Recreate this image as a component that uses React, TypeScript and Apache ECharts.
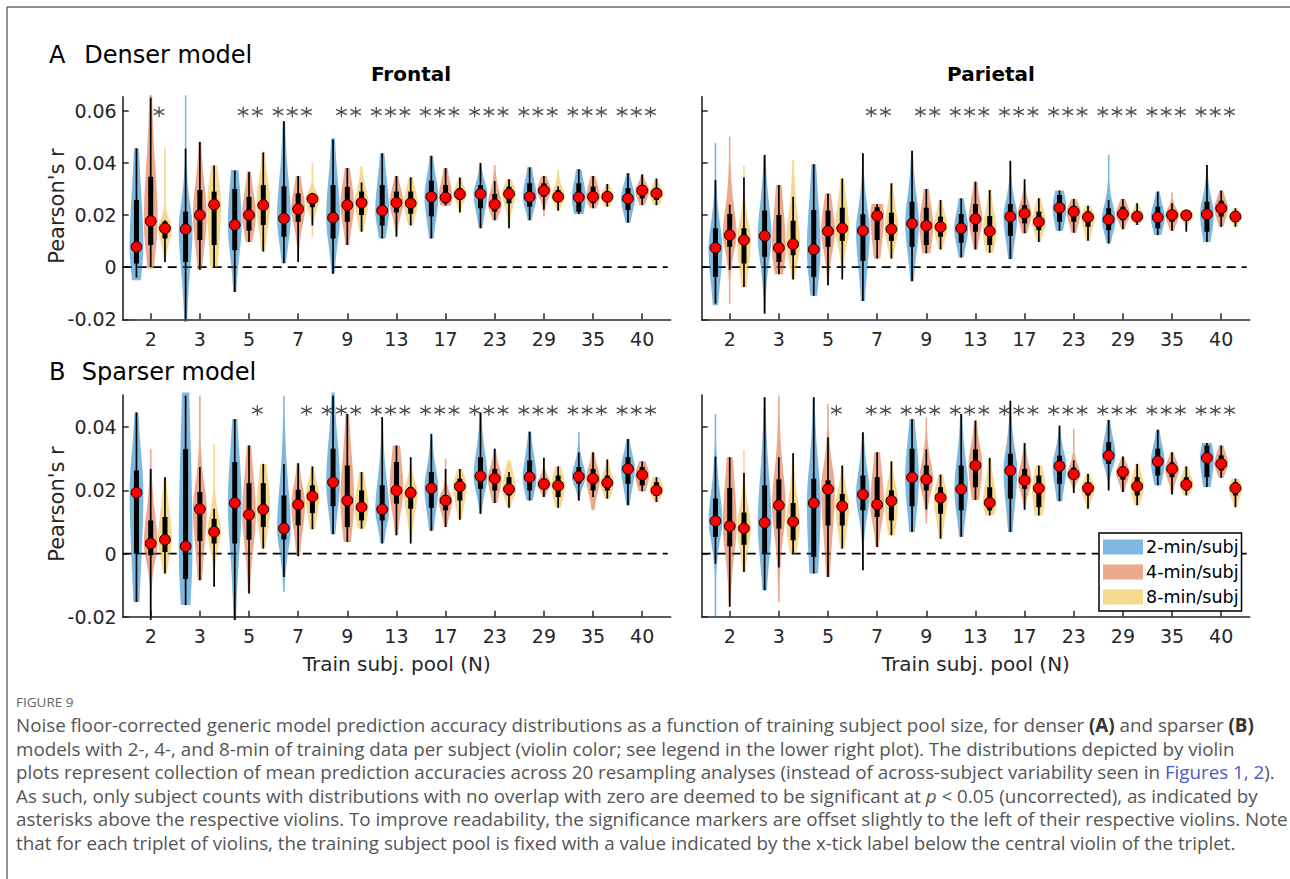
import React, { useEffect, useRef } from "react";
import * as echarts from "echarts";

// x tick labels (training subject pool size N)
const nLabels = ["2", "3", "5", "7", "9", "13", "17", "23", "29", "35", "40"];
const durations = ["2-min/subj", "4-min/subj", "8-min/subj"];

// each violin: [tailLow, whiskerLow, q1, median, q3, whiskerHigh, tailHigh]
const denserFrontal2min = [
  [-0.005, -0.004, 0.0014, 0.0078, 0.0258, 0.0456, 0.0456],
  [-0.021, -0.02, 0.002, 0.0146, 0.0213, 0.0455, 0.066],
  [-0.0095, -0.0095, 0.0065, 0.0162, 0.03, 0.037, 0.0373],
  [0.0015, 0.0015, 0.0117, 0.0187, 0.031, 0.056, 0.056],
  [-0.0025, -0.0025, 0.011, 0.019, 0.0315, 0.049, 0.0495],
  [0.011, 0.011, 0.016, 0.0217, 0.0315, 0.0437, 0.0437],
  [0.011, 0.011, 0.0195, 0.027, 0.0332, 0.0427, 0.0427],
  [0.0149, 0.0149, 0.0226, 0.0281, 0.0315, 0.04, 0.04],
  [0.018, 0.018, 0.0232, 0.027, 0.0322, 0.0383, 0.0383],
  [0.0204, 0.0204, 0.0213, 0.0268, 0.0322, 0.0376, 0.0376],
  [0.017, 0.017, 0.0219, 0.0263, 0.0303, 0.036, 0.036],
];
const denserFrontal4min = [
  [-0.0005, 0, 0.0085, 0.0177, 0.0347, 0.065, 0.066],
  [-0.001, -0.001, 0.0104, 0.02, 0.0296, 0.048, 0.0482],
  [0.0097, 0.0097, 0.014, 0.02, 0.027, 0.0365, 0.0367],
  [0.002, 0.002, 0.0174, 0.0223, 0.0283, 0.035, 0.035],
  [0.0085, 0.0085, 0.0174, 0.0238, 0.0308, 0.038, 0.038],
  [0.0117, 0.0117, 0.021, 0.0247, 0.029, 0.035, 0.035],
  [0.0236, 0.0236, 0.0245, 0.0267, 0.0315, 0.038, 0.038],
  [0.018, 0.018, 0.0213, 0.0241, 0.0281, 0.033, 0.0392],
  [0.0194, 0.022, 0.027, 0.0294, 0.0322, 0.035, 0.035],
  [0.0226, 0.0226, 0.0245, 0.027, 0.0309, 0.035, 0.035],
  [0.0238, 0.0238, 0.0264, 0.0294, 0.0315, 0.0356, 0.0356],
];
const denserFrontal8min = [
  [0.002, 0.002, 0.011, 0.0149, 0.0175, 0.018, 0.046],
  [0, 0, 0.0085, 0.024, 0.029, 0.039, 0.039],
  [0.006, 0.006, 0.0162, 0.0238, 0.0315, 0.044, 0.0444],
  [0.0117, 0.016, 0.023, 0.0262, 0.028, 0.0285, 0.04],
  [0.0136, 0.0136, 0.02, 0.0247, 0.029, 0.0325, 0.0386],
  [0.016, 0.016, 0.0205, 0.0245, 0.029, 0.0345, 0.0345],
  [0.021, 0.021, 0.0258, 0.028, 0.0303, 0.0344, 0.0344],
  [0.0149, 0.0149, 0.0245, 0.0281, 0.0309, 0.0337, 0.0337],
  [0.0217, 0.0217, 0.0251, 0.027, 0.0296, 0.031, 0.0373],
  [0.0232, 0.0232, 0.0251, 0.027, 0.029, 0.0319, 0.0319],
  [0.0238, 0.0238, 0.0258, 0.0283, 0.0303, 0.034, 0.034],
];
const denserParietal2min = [
  [-0.0146, -0.014, -0.0037, 0.0074, 0.0149, 0.0335, 0.0476],
  [-0.0178, -0.0178, 0.004, 0.012, 0.0217, 0.043, 0.0431],
  [-0.011, -0.011, -0.0037, 0.0068, 0.0219, 0.0395, 0.0395],
  [-0.013, -0.013, 0.0024, 0.014, 0.0203, 0.0437, 0.0437],
  [-0.0054, -0.0054, 0.0078, 0.0167, 0.0251, 0.0447, 0.0447],
  [0.0037, 0.0037, 0.0094, 0.0149, 0.0204, 0.0264, 0.0264],
  [0.0031, 0.0031, 0.012, 0.0194, 0.0242, 0.0408, 0.0408],
  [0.014, 0.014, 0.0174, 0.0228, 0.0277, 0.0294, 0.0294],
  [0.0091, 0.0091, 0.0142, 0.0183, 0.0226, 0.0258, 0.0431],
  [0.0123, 0.0123, 0.0149, 0.0191, 0.0232, 0.029, 0.029],
  [0.0097, 0.0097, 0.0136, 0.0203, 0.0251, 0.0392, 0.0392],
];
const denserParietal4min = [
  [-0.014, -0.001, 0.0078, 0.0123, 0.0204, 0.024, 0.05],
  [-0.0027, -0.0027, 0.002, 0.0074, 0.02, 0.0315, 0.0315],
  [-0.0069, -0.0069, 0.0078, 0.0138, 0.0217, 0.0283, 0.0283],
  [0.0033, 0.0033, 0.0104, 0.0197, 0.023, 0.0242, 0.0242],
  [0.0053, 0.0053, 0.0085, 0.0159, 0.0228, 0.03, 0.03],
  [0.0068, 0.0068, 0.0136, 0.0185, 0.0242, 0.0328, 0.0328],
  [0.013, 0.013, 0.0168, 0.0206, 0.0238, 0.0337, 0.0337],
  [0.0132, 0.0132, 0.0174, 0.0213, 0.0235, 0.0262, 0.0262],
  [0.0145, 0.0145, 0.018, 0.0204, 0.0232, 0.0262, 0.0262],
  [0.014, 0.014, 0.0174, 0.02, 0.0219, 0.0245, 0.0286],
  [0.0155, 0.0155, 0.0194, 0.0226, 0.0255, 0.0294, 0.0294],
];
const denserParietal8min = [
  [-0.0076, -0.0076, 0.0014, 0.0104, 0.0149, 0.0344, 0.0388],
  [-0.0047, -0.0047, 0.0046, 0.0088, 0.0178, 0.027, 0.0411],
  [-0.0047, -0.0047, 0.0101, 0.0149, 0.0228, 0.034, 0.034],
  [0.0033, 0.0033, 0.0101, 0.0146, 0.0209, 0.0322, 0.0322],
  [0.0068, 0.0068, 0.0117, 0.0154, 0.0194, 0.0258, 0.0258],
  [0.0055, 0.0055, 0.0085, 0.0138, 0.0196, 0.0296, 0.0296],
  [0.0097, 0.0097, 0.0142, 0.0174, 0.0213, 0.0264, 0.0264],
  [0.0101, 0.0101, 0.0155, 0.0192, 0.0213, 0.0236, 0.0236],
  [0.0162, 0.0162, 0.018, 0.0194, 0.0213, 0.0245, 0.0245],
  [0.0136, 0.0136, 0.0185, 0.0199, 0.0209, 0.0219, 0.0219],
  [0.0155, 0.0155, 0.018, 0.0194, 0.0209, 0.0226, 0.0226],
];
const sparserFrontal2min = [
  [-0.0153, -0.0153, 0.0, 0.0193, 0.0263, 0.0447, 0.0447],
  [-0.0163, -0.0163, -0.008, 0.0023, 0.033, 0.05, 0.051],
  [-0.021, -0.021, 0.0032, 0.016, 0.029, 0.0426, 0.0426],
  [-0.0121, -0.0074, 0.0045, 0.008, 0.0184, 0.0284, 0.05],
  [0.0061, 0.0061, 0.015, 0.0226, 0.0332, 0.05, 0.051],
  [0.0032, 0.0032, 0.0105, 0.014, 0.0216, 0.0432, 0.0432],
  [0.0072, 0.0072, 0.0145, 0.0207, 0.0258, 0.0379, 0.0379],
  [0.0126, 0.0126, 0.0205, 0.0245, 0.0305, 0.0447, 0.0447],
  [0.0168, 0.0168, 0.02, 0.0242, 0.0295, 0.0386, 0.0386],
  [0.0168, 0.0168, 0.0221, 0.0244, 0.0274, 0.032, 0.0384],
  [0.0153, 0.0153, 0.0221, 0.0268, 0.0305, 0.0363, 0.0363],
];
const sparserFrontal4min = [
  [-0.021, -0.021, -0.0005, 0.0032, 0.0105, 0.0268, 0.0332],
  [-0.0084, -0.0084, 0.004, 0.0141, 0.0195, 0.0274, 0.05],
  [-0.0126, -0.0126, 0.0044, 0.0123, 0.0223, 0.0342, 0.0342],
  [-0.0008, -0.0008, 0.0089, 0.0155, 0.0202, 0.0286, 0.0286],
  [0.0037, 0.0037, 0.0084, 0.0168, 0.0279, 0.0442, 0.0442],
  [0.0058, 0.0058, 0.0158, 0.02, 0.029, 0.0342, 0.0342],
  [0.0084, 0.0084, 0.0137, 0.0168, 0.0184, 0.0268, 0.03],
  [0.016, 0.016, 0.02, 0.0238, 0.0268, 0.0332, 0.0332],
  [0.0179, 0.0179, 0.0205, 0.022, 0.0237, 0.0303, 0.0303],
  [0.0137, 0.0179, 0.02, 0.0237, 0.0268, 0.0321, 0.0321],
  [0.0197, 0.0197, 0.0216, 0.0249, 0.0274, 0.0292, 0.0292],
];
const sparserFrontal8min = [
  [-0.0063, -0.0063, 0.0005, 0.0044, 0.0116, 0.0242, 0.0242],
  [-0.0105, -0.0105, 0.0032, 0.0069, 0.011, 0.0142, 0.0347],
  [0.0016, 0.0016, 0.0084, 0.014, 0.0223, 0.0284, 0.0284],
  [0.0077, 0.0077, 0.0128, 0.0181, 0.0216, 0.0276, 0.0276],
  [0.0079, 0.0079, 0.0105, 0.0147, 0.02, 0.0258, 0.0258],
  [0.0032, 0.0032, 0.0142, 0.0192, 0.0211, 0.0305, 0.0305],
  [0.0107, 0.0107, 0.0168, 0.0213, 0.0237, 0.0268, 0.0268],
  [0.0145, 0.0145, 0.0184, 0.0204, 0.0242, 0.0258, 0.0295],
  [0.0145, 0.0145, 0.0179, 0.0215, 0.0247, 0.0276, 0.0276],
  [0.0174, 0.0174, 0.02, 0.0224, 0.0247, 0.0298, 0.0298],
  [0.0163, 0.0163, 0.0184, 0.02, 0.0226, 0.0242, 0.0242],
];
const sparserParietal2min = [
  [-0.0202, -0.0032, 0.0053, 0.0103, 0.0174, 0.0307, 0.0442],
  [-0.0116, -0.0116, 0.0, 0.0098, 0.0216, 0.0495, 0.0495],
  [-0.0063, -0.0063, -0.001, 0.016, 0.0237, 0.0495, 0.0495],
  [-0.0053, -0.0053, 0.0137, 0.0187, 0.0247, 0.0384, 0.0384],
  [0.0068, 0.0068, 0.015, 0.0241, 0.0332, 0.0426, 0.0426],
  [0.0053, 0.0053, 0.0137, 0.0204, 0.0279, 0.0442, 0.0442],
  [0.0068, 0.0068, 0.0174, 0.0263, 0.0316, 0.0484, 0.0484],
  [0.0166, 0.0166, 0.0221, 0.0277, 0.031, 0.0405, 0.0405],
  [0.02, 0.02, 0.0284, 0.031, 0.0353, 0.0423, 0.0423],
  [0.0216, 0.0216, 0.0247, 0.0292, 0.0332, 0.0392, 0.0392],
  [0.0211, 0.0211, 0.0242, 0.0303, 0.0342, 0.035, 0.035],
];
const sparserParietal4min = [
  [-0.0168, -0.0168, 0.0023, 0.0087, 0.0208, 0.0305, 0.0305],
  [-0.0153, -0.0044, 0.0079, 0.0153, 0.0235, 0.0305, 0.05],
  [-0.0074, -0.0074, 0.0089, 0.0204, 0.0232, 0.0368, 0.0474],
  [0.0021, 0.0021, 0.0116, 0.0155, 0.0242, 0.0321, 0.0321],
  [0.0095, 0.014, 0.02, 0.0235, 0.0279, 0.033, 0.043],
  [0.017, 0.017, 0.021, 0.0279, 0.033, 0.0421, 0.0421],
  [0.0139, 0.0139, 0.0205, 0.0232, 0.0268, 0.035, 0.035],
  [0.0192, 0.0192, 0.0237, 0.0251, 0.0272, 0.0295, 0.0395],
  [0.0195, 0.0195, 0.0234, 0.0258, 0.0276, 0.0307, 0.0307],
  [0.0187, 0.0187, 0.0242, 0.0268, 0.0289, 0.0321, 0.0321],
  [0.024, 0.024, 0.0263, 0.0284, 0.0311, 0.0342, 0.0342],
];
const sparserParietal8min = [
  [-0.0058, -0.0058, 0.0028, 0.008, 0.013, 0.0255, 0.0328],
  [0.0, 0.0, 0.0042, 0.0101, 0.016, 0.0318, 0.0318],
  [0.0016, 0.0016, 0.0089, 0.015, 0.0189, 0.0279, 0.0279],
  [0.0058, 0.0058, 0.0105, 0.0167, 0.02, 0.0292, 0.0292],
  [0.0047, 0.0047, 0.0126, 0.0177, 0.021, 0.025, 0.025],
  [0.0121, 0.0121, 0.0137, 0.0161, 0.021, 0.0303, 0.0303],
  [0.0121, 0.0121, 0.0147, 0.0207, 0.0247, 0.0279, 0.0279],
  [0.0142, 0.0142, 0.0184, 0.0207, 0.0226, 0.0253, 0.0253],
  [0.0153, 0.0153, 0.0184, 0.0213, 0.0242, 0.0284, 0.0284],
  [0.0184, 0.0184, 0.02, 0.0218, 0.0242, 0.0276, 0.0276],
  [0.0147, 0.0147, 0.0184, 0.0207, 0.0226, 0.0237, 0.0237],
];

// significance (asterisk) flags per group: [2-min, 4-min, 8-min]
const sigDenserFrontal = [[0,0,1],[0,0,0],[0,1,1],[1,1,1],[0,1,1],[1,1,1],[1,1,1],[1,1,1],[1,1,1],[1,1,1],[1,1,1]];
const sigDenserParietal = [[0,0,0],[0,0,0],[0,0,0],[0,1,1],[0,1,1],[1,1,1],[1,1,1],[1,1,1],[1,1,1],[1,1,1],[1,1,1]];
const sigSparserFrontal = [[0,0,0],[0,0,0],[0,0,1],[0,0,1],[1,1,1],[1,1,1],[1,1,1],[1,1,1],[1,1,1],[1,1,1],[1,1,1]];
const sigSparserParietal = [[0,0,0],[0,0,0],[0,0,1],[0,1,1],[1,1,1],[1,1,1],[1,1,1],[1,1,1],[1,1,1],[1,1,1],[1,1,1]];

const yTicksDenser = [-0.02, 0, 0.02, 0.04, 0.06];
const yTicksSparser = [-0.02, 0, 0.02, 0.04];
const starLevelDenser = 0.0595;
const starLevelSparser = 0.0453;
const zeroLevel = [0];

const captionLines = [
  "{n|Noise floor-corrected generic model prediction accuracy distributions as a function of training subject pool size, for denser }{b|(A)}{n| and sparser }{b|(B)}",
  "{n|models with 2-, 4-, and 8-min of training data per subject (violin color; see legend in the lower right plot). The distributions depicted by violin}",
  "{n|plots represent collection of mean prediction accuracies across 20 resampling analyses (instead of across-subject variability seen in }{l|Figures 1, 2}{n|).}",
  "{n|As such, only subject counts with distributions with no overlap with zero are deemed to be significant at }{i|p}{n| < 0.05 (uncorrected), as indicated by}",
  "{n|asterisks above the respective violins. To improve readability, the significance markers are offset slightly to the left of their respective violins. Note}",
  "{n|that for each triplet of violins, the training subject pool is fixed with a value indicated by the x-tick label below the central violin of the triplet.}",
];

const FILLS = ["rgba(0,114,189,0.5)", "rgba(217,83,25,0.5)", "rgba(237,177,32,0.5)"];
const OFFSETS = [-0.29, 0, 0.29];
const AX = "#262626";
const FONT = "DejaVu Sans";
const CAP_FONT = '"Open Sans"';
const ASTERISK = "path://M5,0L5,10M0.67,2.5L9.33,7.5M0.67,7.5L9.33,2.5";

function fitCaptionSize(): number {
  try {
    const ctx = document.createElement("canvas").getContext("2d");
    if (!ctx) return 16.5;
    ctx.font = `100px ${CAP_FONT}`;
    const plain = captionLines[0].replace(/\{[a-z]\|/g, "").replace(/\}/g, "");
    const w = ctx.measureText(plain).width;
    const s = (100 * 1234) / w;
    return Math.max(14, Math.min(19, s));
  } catch (e) {
    return 16.5;
  }
}

function renderViolin(fill: string) {
  return (params: any, api: any) => {
    const x = api.value(0);
    const tLo = api.value(1), wLo = api.value(2), q1 = api.value(3), med = api.value(4);
    const q3 = api.value(5), wHi = api.value(6), tHi = api.value(7);
    const cx = api.coord([x, med])[0];
    const hpx = api.size([0.14, 0])[0];
    const iqr = q3 - q1;
    const sUp = Math.max(q3 - med, 0.4 * iqr, 0.0015) / 0.674;
    const sDn = Math.max(med - q1, 0.4 * iqr, 0.0015) / 0.674;
    const steps = 60;
    const right: number[][] = [];
    const left: number[][] = [];
    for (let i = 0; i <= steps; i++) {
      const v = tLo + ((tHi - tLo) * i) / steps;
      const z = (v - med) / (v >= med ? sUp : sDn);
      const g = Math.pow(1 + (z * z) / 3, -2);
      const w = Math.max(hpx * g, 0.8);
      const py = api.coord([x, v])[1];
      right.push([cx + w, py]);
      left.unshift([cx - w, py]);
    }
    const yw1 = api.coord([x, wLo])[1];
    const yw2 = api.coord([x, wHi])[1];
    const yq1 = api.coord([x, q1])[1];
    const yq3 = api.coord([x, q3])[1];
    const ym = api.coord([x, med])[1];
    return {
      type: "group",
      children: [
        { type: "polygon", shape: { points: right.concat(left) }, style: { fill } },
        { type: "line", shape: { x1: cx, y1: yw1, x2: cx, y2: yw2 }, style: { stroke: "#000", lineWidth: 1.7 } },
        { type: "rect", shape: { x: cx - 2.5, y: yq3, width: 5, height: yq1 - yq3 }, style: { fill: "#000" } },
        { type: "circle", shape: { cx, cy: ym, r: 5.4 }, style: { fill: "#ff0000", stroke: "#000", lineWidth: 1 } },
      ],
    };
  };
}

function renderZeroLine(params: any, api: any) {
  const cs = params.coordSys;
  const y = api.coord([1, api.value(0)])[1];
  return {
    type: "line",
    shape: { x1: cs.x, y1: y, x2: cs.x + cs.width - 3, y2: y },
    style: { stroke: "#000", lineWidth: 1.6, lineDash: [9, 6] },
  };
}

export default function App() {
  const ref = useRef<HTMLDivElement>(null);
  useEffect(() => {
    document.body.style.margin = "0";
    if (!ref.current) return;
    const chart = echarts.init(ref.current, undefined, { renderer: "svg" });

    const panels = [
      { data: [denserFrontal2min, denserFrontal4min, denserFrontal8min], sig: sigDenserFrontal, left: 122.7, top: 96.7, height: 222.6, max: 0.0654, ticks: yTicksDenser, star: starLevelDenser, labels: true },
      { data: [denserParietal2min, denserParietal4min, denserParietal8min], sig: sigDenserParietal, left: 701.7, top: 96.7, height: 222.6, max: 0.0654, ticks: yTicksDenser, star: starLevelDenser, labels: false },
      { data: [sparserFrontal2min, sparserFrontal4min, sparserFrontal8min], sig: sigSparserFrontal, left: 122.7, top: 395, height: 221.8, max: 0.0502, ticks: yTicksSparser, star: starLevelSparser, labels: true },
      { data: [sparserParietal2min, sparserParietal4min, sparserParietal8min], sig: sigSparserParietal, left: 701.7, top: 395, height: 221.8, max: 0.0502, ticks: yTicksSparser, star: starLevelSparser, labels: false },
    ];
    const xTicks = nLabels.map((_, i) => i + 1);

    const grids = panels.map((p) => ({ left: p.left, top: p.top, width: 548, height: p.height }));
    const xAxes = panels.map((p, i) => ({
      gridIndex: i,
      type: "value",
      min: 0.43,
      max: 11.58,
      position: "bottom",
      axisLine: { show: true, onZero: false, lineStyle: { color: AX, width: 1.6 } },
      axisTick: { show: true, inside: true, length: 6, customValues: xTicks, lineStyle: { color: AX, width: 1.5 } },
      axisLabel: {
        show: true,
        customValues: xTicks,
        formatter: (v: number) => nLabels[Math.round(v) - 1] || "",
        fontSize: 19,
        fontFamily: FONT,
        color: AX,
        margin: 10,
      },
      splitLine: { show: false },
    }));
    const yAxes = panels.map((p, i) => ({
      gridIndex: i,
      type: "value",
      min: -0.02,
      max: p.max,
      position: "left",
      axisLine: { show: true, onZero: false, lineStyle: { color: AX, width: 1.6 } },
      axisTick: { show: true, inside: true, length: 6, customValues: p.ticks, lineStyle: { color: AX, width: 1.5 } },
      axisLabel: {
        show: p.labels,
        customValues: p.ticks,
        formatter: (v: number) => (Math.abs(v) < 1e-9 ? "0" : v.toFixed(2)),
        fontSize: 19,
        fontFamily: FONT,
        color: AX,
        margin: 6,
      },
      splitLine: { show: false },
    }));

    const series: any[] = [];
    panels.forEach((p, pi) => {
      series.push({
        type: "custom",
        xAxisIndex: pi,
        yAxisIndex: pi,
        silent: true,
        z: 1,
        renderItem: renderZeroLine,
        data: zeroLevel.map((v) => [v]),
        encode: { y: 0 },
      });
      const stars: number[][] = [];
      p.sig.forEach((flags, gi) => {
        flags.forEach((f, d) => {
          if (f) stars.push([gi + 1 + OFFSETS[d] - 0.12, p.star]);
        });
      });
      series.push({
        type: "scatter",
        xAxisIndex: pi,
        yAxisIndex: pi,
        symbol: ASTERISK,
        symbolSize: 10.5,
        itemStyle: { color: "rgba(0,0,0,0)", borderColor: "#222", borderWidth: 1.3 },
        data: stars,
        silent: true,
        z: 2,
      });
      p.data.forEach((arr, d) => {
        series.push({
          type: "custom",
          name: durations[d],
          xAxisIndex: pi,
          yAxisIndex: pi,
          clip: false,
          z: 3,
          silent: true,
          itemStyle: { color: FILLS[d] },
          renderItem: renderViolin(FILLS[d]),
          data: arr.map((s, gi) => [gi + 1 + OFFSETS[d], ...s]),
        });
      });
    });

    const capSize = fitCaptionSize();
    const capRich = {
      n: { fontSize: capSize, fontFamily: CAP_FONT, fill: "#555", color: "#555" },
      b: { fontSize: capSize, fontFamily: CAP_FONT, fill: "#333", color: "#333", fontWeight: "bold" },
      l: { fontSize: capSize, fontFamily: CAP_FONT, fill: "#4f57c9", color: "#4f57c9" },
      i: { fontSize: capSize, fontFamily: CAP_FONT, fill: "#555", color: "#555", fontStyle: "italic" },
    };
    const capY = [725, 748.5, 772, 795.5, 819, 842.5];

    const txt = (text: string, x: number, y: number, size: number, extra: any = {}) => ({
      type: "text",
      x,
      y,
      silent: true,
      style: {
        text,
        fill: extra.fill || "#000",
        fontSize: size,
        fontFamily: extra.fontFamily || FONT,
        fontWeight: extra.fontWeight || "normal",
        textAlign: extra.align || "left",
        textVerticalAlign: "middle",
      },
      rotation: extra.rotation || 0,
    });

    const graphic: any[] = [
      { type: "line", silent: true, shape: { x1: 7, y1: 7, x2: 1290, y2: 7 }, style: { stroke: "#6e6e6e", lineWidth: 1.5 } },
      { type: "line", silent: true, shape: { x1: 7, y1: 7, x2: 7, y2: 879 }, style: { stroke: "#6e6e6e", lineWidth: 1.5 } },
      txt("A", 49, 55, 24),
      txt("Denser model", 84.3, 55, 24),
      txt("B", 49, 372, 24),
      txt("Sparser model", 81.7, 372, 24),
      txt("Frontal", 411, 74, 20, { fontWeight: "bold", align: "center" }),
      txt("Parietal", 991, 74, 20, { fontWeight: "bold", align: "center" }),
      txt("Pearson's r", 57, 206, 21, { align: "center", rotation: Math.PI / 2, fill: AX }),
      txt("Pearson's r", 57, 504, 21, { align: "center", rotation: Math.PI / 2, fill: AX }),
      txt("Train subj. pool (N)", 396.7, 664, 20, { align: "center", fill: AX }),
      txt("Train subj. pool (N)", 975.9, 664, 20, { align: "center", fill: AX }),
      txt("FIGURE 9", 16, 702, 13.5, { fill: "#666", fontFamily: CAP_FONT }),
      ...captionLines.map((line, i) => ({
        type: "text",
        x: 16,
        y: capY[i],
        silent: true,
        style: { text: line, rich: capRich, textVerticalAlign: "middle", fill: "#555", fontSize: capSize, fontFamily: CAP_FONT },
      })),
    ];

    chart.setOption({
      animation: false,
      backgroundColor: "#fff",
      grid: grids,
      xAxis: xAxes,
      yAxis: yAxes,
      legend: {
        data: durations,
        orient: "vertical",
        left: 1099,
        top: 533,
        icon: "rect",
        itemWidth: 40,
        itemHeight: 15,
        itemGap: 7,
        padding: [5, 3, 5, 4],
        backgroundColor: "#fff",
        borderColor: "#000",
        borderWidth: 1.5,
        selectedMode: false,
        textStyle: { fontSize: 17.5, fontFamily: FONT, color: "#000", padding: [0, 0, 0, -2] },
        z: 10,
      },
      graphic,
      series,
    });
    return () => chart.dispose();
  }, []);
  return <div ref={ref} style={{ width: 1290, height: 879 }} />;
}
